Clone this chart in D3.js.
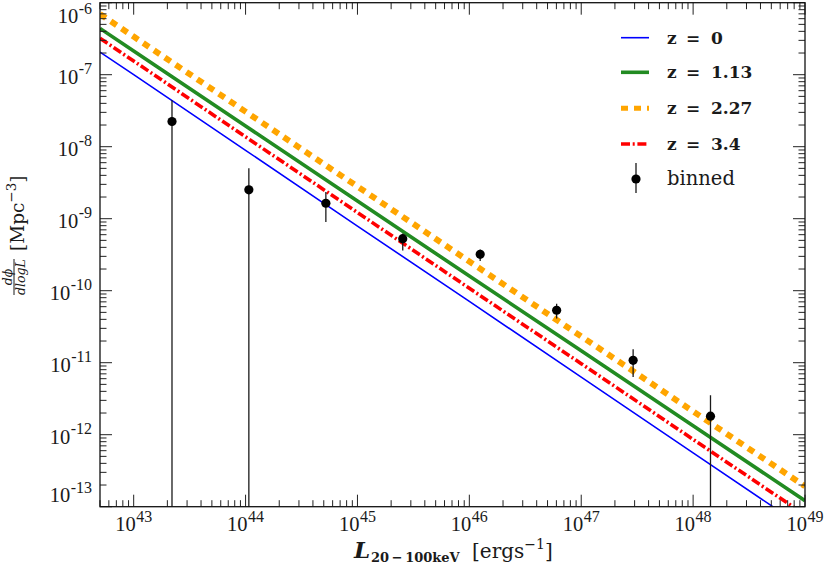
<!DOCTYPE html>
<html>
<head>
<meta charset="utf-8">
<script src="https://cdn.jsdelivr.net/npm/d3@7"></script>
<style>
  html, body { margin: 0; padding: 0; background: #fff; }
  svg { display: block; }
</style>
</head>
<body>
<svg id="chart" width="830" height="567"></svg>
<script>
// ---------------- data ----------------
// luminosity grid for the model curves [erg/s]
const Lgrid = [5e42, 1e43, 1e44, 1e45, 1e46, 1e47, 1e48, 1e49];
// dphi/dlogL [Mpc^-3] model curves at each redshift
const phiZ0    = [2.06e-7, 1.00e-7, 8.9e-9, 7.9e-10, 7.1e-11, 6.3e-12, 5.6e-13, 5.0e-14];
const phiZ113  = [4.40e-7, 2.13e-7, 1.94e-8, 1.76e-9, 1.60e-10, 1.46e-11, 1.33e-12, 1.21e-13];
const phiZ227  = [6.95e-7, 3.38e-7, 3.07e-8, 2.80e-9, 2.55e-10, 2.32e-11, 2.11e-12, 1.92e-13];
const phiZ34   = [3.20e-7, 1.55e-7, 1.37e-8, 1.22e-9, 1.08e-10, 9.7e-12, 8.6e-13, 7.7e-14];
const seriesNames = ["z = 0", "z = 1.13", "z = 2.27", "z = 3.4"];

// binned estimates
const binL   = [2.20e43, 1.07e44, 5.22e44, 2.54e45, 1.25e46, 6.03e46, 2.91e47, 1.43e48];
const binPhi = [2.24e-8, 2.52e-9, 1.64e-9, 5.28e-10, 3.20e-10, 5.35e-11, 1.08e-11, 1.81e-12];
const binHi  = [4.4e-8, 5.0e-9, 2.34e-9, 6.25e-10, 3.72e-10, 6.6e-11, 1.54e-11, 3.54e-12];
const binLo  = [1e-14, 1e-14, 9.0e-10, 3.63e-10, 2.58e-10, 4.1e-11, 6.35e-12, 1e-14];

// tick exponents
const xTickExp = [43, 44, 45, 46, 47, 48, 49];
const yTickExp = [-13, -12, -11, -10, -9, -8, -7, -6];

(function () {
// ---------------- layout ----------------
const svg = d3.select("#chart");
const pL = 100, pR = 805, pT = 2.7, pB = 506.7;

const x = d3.scaleLog().domain([5e42, 1e49]).range([pL, pR]);
const y = d3.scaleLog().domain([1e-13, 1e-6]).range([pB, pT]);

const tickFont = "'Liberation Serif', 'Times New Roman', serif";
const labFont = "'DejaVu Serif', serif";

svg.append("defs").append("clipPath").attr("id", "clip")
  .append("rect").attr("x", pL).attr("y", pT)
  .attr("width", pR - pL).attr("height", pB - pT);

// ---------------- curves ----------------
const styles = [
  { data: phiZ0,   color: "#0000ff", width: 1.6, dash: null },
  { data: phiZ113, color: "#228b22", width: 3.6, dash: null },
  { data: phiZ227, color: "#ffa500", width: 6,   dash: "7,6" },
  { data: phiZ34,  color: "#ff0000", width: 3.6, dash: "9,2.7,2,2.7" }
];
const line = d3.line().x(d => x(d[0])).y(d => y(d[1]));
const gCurves = svg.append("g").attr("clip-path", "url(#clip)");
[0, 3, 1, 2].forEach(i => {
  const s = styles[i];
  gCurves.append("path")
    .attr("d", line(Lgrid.map((L, k) => [L, s.data[k]])))
    .attr("fill", "none")
    .attr("stroke", s.color)
    .attr("stroke-width", s.width)
    .attr("stroke-dasharray", s.dash);
});

// ---------------- binned points ----------------
const gPts = svg.append("g").attr("clip-path", "url(#clip)");
binL.forEach((L, i) => {
  gPts.append("line")
    .attr("x1", x(L)).attr("x2", x(L))
    .attr("y1", y(binHi[i])).attr("y2", y(binLo[i]))
    .attr("stroke", "#1a1a1a").attr("stroke-width", 1.3);
  gPts.append("circle")
    .attr("cx", x(L)).attr("cy", y(binPhi[i])).attr("r", 4.6)
    .attr("fill", "#000");
});

// ---------------- ticks ----------------
const gTicks = svg.append("g").attr("stroke", "#222").attr("stroke-width", 1);
function tickList(domain) {
  const out = [];
  const lo = Math.floor(Math.log10(domain[0])), hi = Math.ceil(Math.log10(domain[1]));
  for (let e = lo; e <= hi; e++) {
    for (let k = 1; k <= 9; k++) {
      const v = k * Math.pow(10, e);
      if (v >= domain[0] * 0.999 && v <= domain[1] * 1.001) out.push({ v, major: k === 1 });
    }
  }
  return out;
}
const majLen = 12, minLen = 6.5;
tickList(x.domain()).forEach(t => {
  const xx = x(t.v), len = t.major ? majLen : minLen;
  gTicks.append("line").attr("x1", xx).attr("x2", xx).attr("y1", pB).attr("y2", pB - len);
  gTicks.append("line").attr("x1", xx).attr("x2", xx).attr("y1", pT).attr("y2", pT + len);
});
tickList(y.domain()).forEach(t => {
  const yy = y(t.v), len = t.major ? majLen : minLen;
  gTicks.append("line").attr("x1", pL).attr("x2", pL + len).attr("y1", yy).attr("y2", yy);
  gTicks.append("line").attr("x1", pR).attr("x2", pR - len).attr("y1", yy).attr("y2", yy);
});

// frame
svg.append("rect").attr("x", pL).attr("y", pT)
  .attr("width", pR - pL).attr("height", pB - pT)
  .attr("fill", "none").attr("stroke", "#111").attr("stroke-width", 1.3);

// tick labels
xTickExp.forEach(e => {
  const t = svg.append("text")
    .attr("x", x(Math.pow(10, e))).attr("y", 531)
    .attr("text-anchor", "middle")
    .attr("font-family", tickFont).attr("font-size", 20.5).attr("fill", "#1a1a1a");
  t.append("tspan").text("10");
  t.append("tspan").attr("dy", -9.5).attr("dx", 0.5).attr("font-size", 16).text(String(e));
});
yTickExp.forEach(e => {
  const base = Math.min(Math.max(y(Math.pow(10, e)) + 9, 23), 502);
  const t = svg.append("text")
    .attr("x", 92).attr("y", base)
    .attr("text-anchor", "end")
    .attr("font-family", tickFont).attr("font-size", 20.5).attr("fill", "#1a1a1a");
  t.append("tspan").text("10");
  t.append("tspan").attr("dy", -9.5).attr("dx", 0.5).attr("font-size", 16).text("-" + String(-e));
});

// ---------------- axis labels ----------------
const xl = svg.append("text").attr("y", 558).attr("font-family", labFont).attr("fill", "#1a1a1a");
xl.append("tspan").attr("x", 354).attr("font-style", "italic").attr("font-weight", "bold")
  .attr("font-size", 23).text("L");
xl.append("tspan").attr("x", 371).attr("dy", 4).attr("font-weight", "bold")
  .attr("font-size", 13).text("20\u2009\u2212\u2009100keV");
xl.append("tspan").attr("x", 472).attr("dy", -4).attr("font-size", 20).text("[ergs");
xl.append("tspan").attr("dy", -9).attr("font-size", 14).text("\u22121");
xl.append("tspan").attr("dy", 9).attr("font-size", 20).text("]");

const yl = svg.append("g").attr("transform", "rotate(-90)")
  .attr("font-family", labFont).attr("fill", "#1a1a1a");
const yt = yl.append("text").attr("x", -251).attr("y", 24).attr("font-size", 18.5);
yt.append("tspan").text("[Mpc");
yt.append("tspan").attr("dy", -8).attr("font-size", 13.5).text("\u22123");
yt.append("tspan").attr("dy", 8).text("]");
yl.append("line").attr("x1", -295).attr("x2", -259).attr("y1", 14).attr("y2", 14)
  .attr("stroke", "#1a1a1a").attr("stroke-width", 1);
yl.append("text").attr("x", -277).attr("y", 11.5).attr("text-anchor", "middle")
  .attr("font-style", "italic").attr("font-size", 12.5).text("d\u03D5");
yl.append("text").attr("x", -277).attr("y", 24.5).attr("text-anchor", "middle")
  .attr("font-style", "italic").attr("font-size", 12.5).text("dlogL");

// ---------------- legend ----------------
const legY = [37.7, 72.3, 108.3, 144];
styles.forEach((s, i) => {
  svg.append("line").attr("x1", 621).attr("x2", 649)
    .attr("y1", legY[i]).attr("y2", legY[i])
    .attr("stroke", s.color).attr("stroke-width", s.width === 6 ? 5 : s.width)
    .attr("stroke-dasharray", s.dash);
  const parts = seriesNames[i].split(" ");
  const g = svg.append("g").attr("font-family", labFont).attr("font-weight", "bold")
    .attr("font-size", 17).attr("fill", "#1a1a1a");
  g.append("text").attr("x", 667).attr("y", legY[i] + 6).text(parts[0]);
  g.append("text").attr("x", 686).attr("y", legY[i] + 6).text(parts[1]);
  g.append("text").attr("x", 711).attr("y", legY[i] + 6).text(parts[2]);
});
svg.append("line").attr("x1", 636).attr("x2", 636).attr("y1", 163).attr("y2", 193)
  .attr("stroke", "#1a1a1a").attr("stroke-width", 1.3);
svg.append("circle").attr("cx", 636).attr("cy", 179).attr("r", 4.6).attr("fill", "#000");
svg.append("text").attr("x", 667).attr("y", 185).attr("font-family", labFont)
  .attr("font-size", 19.5).attr("fill", "#1a1a1a").text("binned");
})();
</script>
</body>
</html>
